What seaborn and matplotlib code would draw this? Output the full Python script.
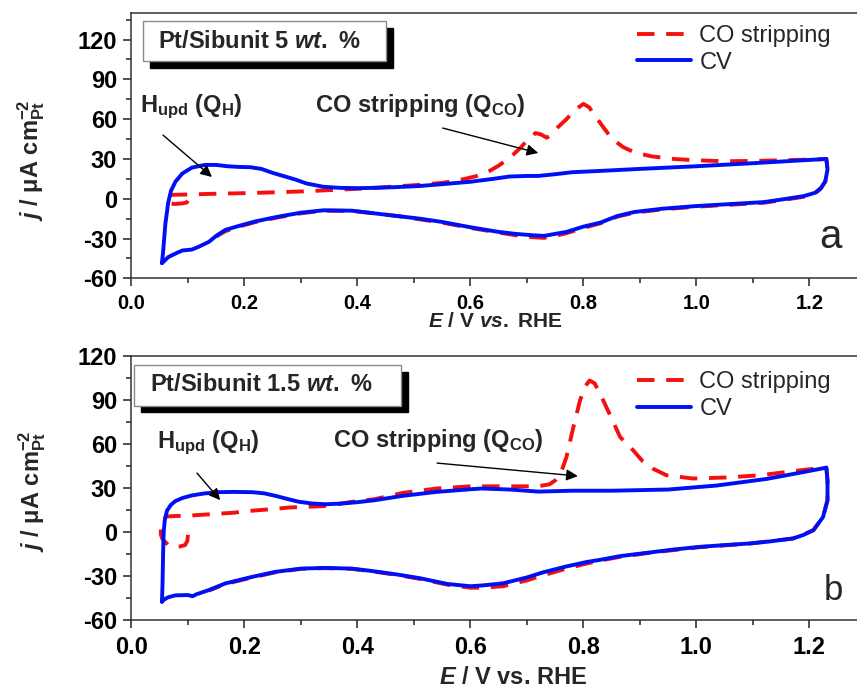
import numpy as np
import pandas as pd
import matplotlib
matplotlib.use("Agg")
import matplotlib.pyplot as plt
import seaborn as sns
from matplotlib.patches import Rectangle
from matplotlib.ticker import MultipleLocator

# ---- data: panel a (Pt/Sibunit 5 wt.%) ----
cv_a_E = [0.054, 0.056, 0.060, 0.065, 0.070, 0.078, 0.09, 0.107, 0.13, 0.15, 0.17, 0.19, 0.21, 0.23,
          0.25, 0.27, 0.29, 0.31, 0.34, 0.37, 0.40, 0.43, 0.47, 0.51, 0.55, 0.60, 0.64, 0.67, 0.70,
          0.72, 0.75, 0.78, 0.83, 0.90, 1.00, 1.10, 1.18, 1.23,
          1.232, 1.228, 1.22, 1.21, 1.19, 1.16, 1.12, 1.06, 1.00, 0.94, 0.89, 0.86, 0.83, 0.80,
          0.77, 0.75, 0.73, 0.71, 0.68, 0.65, 0.60, 0.55, 0.51, 0.47, 0.43, 0.39, 0.34, 0.30,
          0.26, 0.22, 0.19, 0.166, 0.15, 0.137, 0.12, 0.107, 0.09, 0.078, 0.065, 0.058, 0.054]
cv_a_j = [-48.5, -40, -19, -3, 6, 13, 19, 23.5, 25.5, 25.5, 24.5, 24, 23.8, 22.5,
          19.5, 17, 14.5, 11.5, 9, 8.2, 8, 8.2, 8.8, 9.6, 11, 12.8, 15, 16.8, 17.2,
          17.2, 18.5, 20, 21, 22.5, 24.5, 26.8, 28.8, 30,
          22, 13, 8, 4.5, 2, 0, -2.5, -4, -5.5, -7.5, -10, -13, -18, -21,
          -25, -26.5, -28, -27.5, -26.5, -25, -21.5, -17.5, -15, -13, -11, -9, -8.7, -10.5,
          -13.5, -17, -20.5, -23.5, -28, -32.5, -36, -38.3, -39, -41.3, -44, -47, -48.5]

co_a_E = [0.100, 0.098, 0.09, 0.075, 0.068, 0.065, 0.064, 0.075, 0.10, 0.15, 0.20, 0.25, 0.30,
          0.35, 0.40, 0.44, 0.50, 0.55, 0.58, 0.61, 0.63, 0.65, 0.67, 0.69, 0.70, 0.715, 0.725,
          0.735, 0.745, 0.755, 0.77, 0.785, 0.80, 0.81, 0.82, 0.835, 0.85, 0.87, 0.89, 0.92,
          0.96, 1.00, 1.05, 1.10, 1.15, 1.20, 1.23,
          1.232, 1.228, 1.22, 1.21, 1.19, 1.16, 1.12, 1.06, 1.00, 0.94, 0.89, 0.86, 0.83, 0.80,
          0.77, 0.75, 0.73, 0.71, 0.68, 0.65, 0.60, 0.55, 0.51, 0.47, 0.43, 0.39, 0.34, 0.30,
          0.26, 0.22, 0.19, 0.166, 0.15]
co_a_j = [-1.5, -2.8, -3.5, -4, -3, 0, 2.5, 3, 3.2, 3.8, 4.2, 4.8, 5.5,
          6.5, 7.5, 8.5, 10.2, 12, 14, 17, 20, 25, 31, 39, 44, 49.5, 48.5,
          46, 49, 54, 60, 67, 71.5, 69, 63, 54, 45.5, 39, 35, 32,
          30, 29, 28.3, 28.5, 29, 29.5, 30,
          22, 13, 7.5, 4, 1.5, -0.5, -3, -4.5, -6, -8, -10.5, -13.5, -18.5, -22,
          -26, -28, -29.5, -29, -27.5, -25.5, -22, -18, -15.5, -13, -11, -9.2, -9, -11,
          -14, -17.5, -21, -24.5, -28.5]

# ---- data: panel b (Pt/Sibunit 1.5 wt.%) ----
cv_b_E = [0.054, 0.055, 0.056, 0.057, 0.059, 0.063, 0.07, 0.078, 0.09, 0.107, 0.13, 0.154, 0.18,
          0.214, 0.235, 0.255, 0.275, 0.296, 0.32, 0.343, 0.37, 0.40, 0.43, 0.48, 0.54, 0.60,
          0.62, 0.67, 0.72, 0.78, 0.85, 0.95, 1.035, 1.124, 1.18, 1.23,
          1.232, 1.232, 1.224, 1.207, 1.19, 1.171, 1.13, 1.094, 1.05, 1.006, 0.96, 0.918, 0.865,
          0.83, 0.806, 0.77, 0.729, 0.70, 0.658, 0.62, 0.60, 0.56, 0.51, 0.47, 0.423, 0.39,
          0.343, 0.30, 0.255, 0.214, 0.166, 0.137, 0.115, 0.108, 0.10, 0.078, 0.065, 0.058, 0.054]
cv_b_j = [-47.5, -35, -15, 0, 8, 14.5, 18.5, 21, 23, 24.8, 26.2, 27, 27.2,
          27, 26.2, 24.5, 22.5, 20.5, 19.3, 18.8, 19.2, 20.2, 21.5, 24.5, 27.2, 29,
          29.5, 28.8, 27.4, 28, 28, 28.8, 31.5, 36, 40, 43.7,
          35, 21.5, 10, 1.2, -2, -4.5, -6.5, -7.9, -9, -10.2, -12, -14, -16.5,
          -19, -20.5, -23.5, -27.5, -31, -35, -36.5, -37, -35.5, -31.5, -29, -26.5, -25,
          -24.5, -25, -27.2, -30.6, -35.1, -39.6, -42.5, -43.8, -43, -43.2, -44.5, -46, -47.5]

co_b_E = [0.100, 0.099, 0.095, 0.085, 0.075, 0.065, 0.055, 0.052, 0.052, 0.055, 0.062, 0.08,
          0.10, 0.14, 0.18, 0.21, 0.25, 0.28, 0.34, 0.40, 0.43, 0.48, 0.54, 0.60, 0.67, 0.72,
          0.74, 0.75, 0.76, 0.77, 0.782, 0.794, 0.803, 0.811, 0.82, 0.835, 0.846, 0.865, 0.888,
          0.905, 0.923, 0.947, 0.994, 1.053, 1.112, 1.195, 1.23,
          1.232, 1.232, 1.224, 1.207, 1.171, 1.094, 1.006, 0.918, 0.865, 0.83, 0.806, 0.77,
          0.729, 0.70, 0.658, 0.62, 0.60, 0.56, 0.51, 0.47, 0.423, 0.39, 0.343, 0.30, 0.255,
          0.214, 0.166, 0.137]
co_b_j = [-2, -6, -9, -10, -10.5, -9, -5, -2, 3, 8, 10.5, 10.8,
          11, 12, 13, 14.3, 15.5, 16.6, 17.5, 21, 22.2, 26.5, 29.5, 31, 31, 31,
          32.4, 35, 40, 51, 71, 89.5, 99, 103, 101, 89.5, 80.4, 64.5, 55.5,
          48, 43, 38.5, 36.3, 37, 38.5, 42.4, 43.7,
          35, 21.5, 10, 1, -4.5, -8, -10.4, -14.2, -17, -19.5, -21.5, -25,
          -29.5, -33, -37, -38, -38, -36, -32, -29.3, -26.7, -25.2, -24.7, -25.2, -27.5,
          -31, -35.5, -40]

panels = [
    dict(cv=(cv_a_E, cv_a_j), co=(co_a_E, co_a_j), ylim=(-60, 140),
         title="Pt/Sibunit 5 $wt.\\ $%", letter="a",
         xlabel="$E$ / V $vs.$ RHE"),
    dict(cv=(cv_b_E, cv_b_j), co=(co_b_E, co_b_j), ylim=(-60, 120),
         title="Pt/Sibunit 1.5 $wt.\\ $%", letter="b",
         xlabel="$E$ / V vs. RHE"),
]

sns.set_style("ticks")
plt.rcParams["font.family"] = ["Liberation Sans", "DejaVu Sans"]
plt.rcParams["font.weight"] = "bold"
plt.rcParams["axes.unicode_minus"] = False
plt.rcParams["mathtext.fontset"] = "custom"
plt.rcParams["mathtext.rm"] = "Liberation Sans:bold"
plt.rcParams["mathtext.bf"] = "Liberation Sans:bold"
plt.rcParams["mathtext.it"] = "Liberation Sans:italic:bold"

fig = plt.figure(figsize=(8.57, 6.91), dpi=100)
ax_a = fig.add_axes([0.1534, 0.5972, 0.857, 0.3839])
ax_b = fig.add_axes([0.1534, 0.1027, 0.857, 0.3828])
axes = [ax_a, ax_b]

blue = "#0010f5"
red = "#f51010"

for ax, p in zip(axes, panels):
    df_co = pd.DataFrame({"E": p["co"][0], "j": p["co"][1]})
    df_cv = pd.DataFrame({"E": p["cv"][0], "j": p["cv"][1]})
    sns.lineplot(data=df_co, x="E", y="j", sort=False, estimator=None, ax=ax,
                 color=red, lw=2.8, linestyle=(0, (4.5, 3)), label="CO stripping")
    sns.lineplot(data=df_cv, x="E", y="j", sort=False, estimator=None, ax=ax,
                 color=blue, lw=2.8, label="CV")
    ax.set_xlim(0, 1.3)
    ax.set_ylim(*p["ylim"])
    ax.xaxis.set_major_locator(MultipleLocator(0.2))
    ax.xaxis.set_minor_locator(MultipleLocator(0.1))
    ax.yaxis.set_major_locator(MultipleLocator(30))
    ax.yaxis.set_minor_locator(MultipleLocator(15))
    ax.tick_params(which="major", direction="out", length=6, width=1.1, colors="#222222")
    ax.tick_params(which="minor", direction="out", length=3.5, width=1.1, colors="#222222")
    ax.tick_params(axis="y", labelsize=17, pad=4.5, labelcolor="black")
    ax.tick_params(axis="x", pad=5.5, labelcolor="black")
    for s in ["left", "bottom", "top"]:
        ax.spines[s].set_linewidth(1.1)
        ax.spines[s].set_color("#333333")
    ax.spines["right"].set_visible(False)

    ax.set_ylabel("$j$ / \u03bcA cm$^{-2}_{\\mathrm{Pt}}$", fontsize=17, fontweight="bold")
    ax.legend(loc="upper left", frameon=False, handlelength=2.3,
              handletextpad=0.35, labelspacing=0.2, borderpad=0, borderaxespad=0,
              prop={"weight": "normal", "size": 17})
    ax.set_xlabel(p["xlabel"], fontweight="bold")

# panel-specific layout
ax_a.tick_params(axis="x", labelsize=14.5)
ax_b.tick_params(axis="x", labelsize=17)
ax_a.xaxis.label.set_fontsize(15)
ax_b.xaxis.label.set_fontsize(17)
ax_a.xaxis.set_label_coords(0.495, -0.126)
ax_b.xaxis.set_label_coords(0.520, -0.172)
ax_a.yaxis.set_label_coords(-0.115, 0.446)
ax_b.yaxis.set_label_coords(-0.114, 0.488)

ax_a.get_legend().set_bbox_to_anchor((0.688, 0.955))
ax_b.get_legend().set_bbox_to_anchor((0.688, 0.94))

# sample boxes with a black drop shadow
boxes = [
    (ax_a, (0.0152, 0.819, 0.331, 0.151), (0.0365, 0.894)),
    (ax_b, (0.003, 0.811, 0.364, 0.1515), (0.025, 0.890)),
]
for (ax, (x0, y0, w, h), (tx, ty)), p in zip(boxes, panels):
    dx = 7 / 734.5
    dy = 7 / 265
    ax.add_patch(Rectangle((x0 + dx, y0 - dy), w, h, transform=ax.transAxes,
                           facecolor="black", edgecolor="black", zorder=5))
    ax.add_patch(Rectangle((x0, y0), w, h, transform=ax.transAxes,
                           facecolor="white", edgecolor="#8a8a8a", lw=1.0, zorder=6))
    ax.text(tx, ty, p["title"], transform=ax.transAxes, ha="left", va="center",
            fontsize=17, fontweight="bold", zorder=7)

# panel letters
ax_a.text(0.937, 0.113, "a", transform=ax_a.transAxes, fontsize=29,
          fontweight="normal", ha="left", va="baseline")
ax_b.text(0.942, 0.0756, "b", transform=ax_b.transAxes, fontsize=25,
          fontweight="normal", ha="left", va="baseline")

# annotations
arrow = dict(arrowstyle="-|>", color="black", lw=1.0, mutation_scale=17, shrinkA=0, shrinkB=0)
h_label = "H$_{\\mathrm{upd}}$ (Q$_{\\mathrm{H}}$)"
co_label = "CO stripping (Q$_{\\mathrm{CO}}$)"

ax_a.text(0.015, 65.4, h_label, fontsize=17, fontweight="bold", va="baseline")
ax_a.text(0.325, 65.4, co_label, fontsize=17, fontweight="bold", va="baseline")
ax_a.annotate("", xy=(0.1425, 16.4), xytext=(0.0558, 48.0), arrowprops=arrow)
ax_a.annotate("", xy=(0.720, 34.5), xytext=(0.551, 53.3), arrowprops=arrow)

ax_b.text(0.0446, 56.8, h_label, fontsize=17, fontweight="bold", va="baseline")
ax_b.text(0.357, 57.8, co_label, fontsize=17, fontweight="bold", va="baseline")
ax_b.annotate("", xy=(0.157, 21.6), xytext=(0.116, 40.0), arrowprops=arrow)
ax_b.annotate("", xy=(0.790, 38.0), xytext=(0.541, 46.8), arrowprops=arrow)

fig.savefig("out.png", dpi=100)
